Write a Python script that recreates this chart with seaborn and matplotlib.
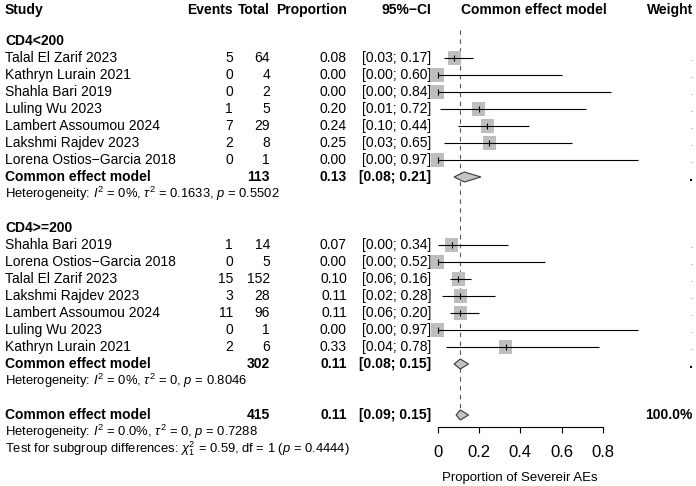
import numpy as np
import pandas as pd
import matplotlib
matplotlib.use("Agg")
import matplotlib.pyplot as plt
from matplotlib.patches import Polygon
import seaborn as sns

sns.set_theme(style="white")
plt.rcParams['font.family'] = ['Liberation Sans', 'DejaVu Sans']
plt.rcParams['mathtext.fontset'] = 'custom'
plt.rcParams['mathtext.rm'] = 'Liberation Sans'
plt.rcParams['mathtext.it'] = 'Liberation Sans:italic'
plt.rcParams['mathtext.bf'] = 'Liberation Sans:bold'

# ---------------- data ----------------
g1_label = "CD4<200"
g1_study = ["Talal El Zarif 2023", "Kathryn Lurain 2021", "Shahla Bari 2019", "Luling Wu 2023",
            "Lambert Assoumou 2024", "Lakshmi Rajdev 2023", "Lorena Ostios\u2212Garcia 2018"]
g1_events = [5, 0, 0, 1, 7, 2, 0]
g1_total = [64, 4, 2, 5, 29, 8, 1]
g1_prop = [0.08, 0.00, 0.00, 0.20, 0.24, 0.25, 0.00]
g1_lo = [0.03, 0.00, 0.00, 0.01, 0.10, 0.03, 0.00]
g1_hi = [0.17, 0.60, 0.84, 0.72, 0.44, 0.65, 0.97]
g1_pooled = [113, 0.13, 0.08, 0.21]   # total, est, lo, hi
g1_het = r"Heterogeneity: $\mathit{I}^2$ = 0%, $\tau^2$ = 0.1633, $\mathit{p}$ = 0.5502"

g2_label = "CD4>=200"
g2_study = ["Shahla Bari 2019", "Lorena Ostios\u2212Garcia 2018", "Talal El Zarif 2023", "Lakshmi Rajdev 2023",
            "Lambert Assoumou 2024", "Luling Wu 2023", "Kathryn Lurain 2021"]
g2_events = [1, 0, 15, 3, 11, 0, 2]
g2_total = [14, 5, 152, 28, 96, 1, 6]
g2_prop = [0.07, 0.00, 0.10, 0.11, 0.11, 0.00, 0.33]
g2_lo = [0.00, 0.00, 0.06, 0.02, 0.06, 0.00, 0.04]
g2_hi = [0.34, 0.52, 0.16, 0.28, 0.20, 0.97, 0.78]
g2_pooled = [302, 0.11, 0.08, 0.15]
g2_het = r"Heterogeneity: $\mathit{I}^2$ = 0%, $\tau^2$ = 0, $\mathit{p}$ = 0.8046"

all_pooled = [415, 0.11, 0.09, 0.15]
all_het = r"Heterogeneity: $\mathit{I}^2$ = 0.0%, $\tau^2$ = 0, $\mathit{p}$ = 0.7288"
all_test = r"Test for subgroup differences: $\chi^2_1$ = 0.59, df = 1 ($\mathit{p}$ = 0.4444)"

headers = ["Study", "Events", "Total", "Proportion", "95%\u2212CI", "Common effect model", "Weight"]
x_ticks = [0, 0.2, 0.4, 0.6, 0.8]
x_ticklabels = ["0", "0.2", "0.4", "0.6", "0.8"]
x_label = "Proportion of Severeir AEs"
model_label = "Common effect model"
overall_weight = "100.0%"

# ---------------- layout (pixels) ----------------
W, H = 696, 486
X0, XS = 437.5, 206.9        # pixel of 0, pixels per unit
Y0, DY = 41, 17
def row(r):
    return Y0 + DY * r

C_STUDY, C_EV, C_TOT, C_PROP, C_CI, C_MODEL, C_W = 5, 233, 270, 347, 431, 534, 693
FS = 10
FS_HET = 9.4

fig = plt.figure(figsize=(W / 100, H / 100), dpi=100)
fig.patch.set_facecolor("white")
ax = fig.add_axes([0, 0, 1, 1])
ax.set_facecolor("white")

tx = fig.add_axes([0, 0, 1, 1], frameon=False)
tx.set_xlim(0, W)
tx.set_ylim(H, 0)
tx.axis("off")

def t(x, y, s, ha="left", bold=False, size=FS, **kw):
    tx.text(x, y, s, ha=ha, va="center", fontsize=size,
            fontweight="bold" if bold else "normal", color="black", **kw)

# header
hx = [C_STUDY, C_EV, C_TOT, C_PROP, C_CI, C_MODEL, C_W]
ha_list = ["left", "right", "right", "right", "right", "center", "right"]
for x, s, ha in zip(hx, headers, ha_list):
    t(x, 10, s, ha=ha, bold=True)

# study table
rows_df = []
def group(start, label, study, ev, tot, prop, lo, hi, pooled, het):
    t(C_STUDY, row(start), label, bold=True)
    for i in range(len(study)):
        y = row(start + 1 + i)
        t(C_STUDY, y, study[i])
        t(C_EV, y, str(ev[i]), ha="right")
        t(C_TOT, y, str(tot[i]), ha="right")
        t(C_PROP, y, f"{prop[i]:.2f}", ha="right")
        t(C_CI, y, f"[{lo[i]:.2f}; {hi[i]:.2f}]", ha="right")
        t(C_W, y, ".", ha="right", size=7, alpha=0.6)
        rows_df.append(dict(prop=prop[i], lo=lo[i], hi=hi[i], y=y))
    yp = row(start + 1 + len(study))
    t(C_STUDY, yp, model_label, bold=True)
    t(C_TOT, yp, str(pooled[0]), ha="right", bold=True)
    t(C_PROP, yp, f"{pooled[1]:.2f}", ha="right", bold=True)
    t(C_CI, yp, f"[{pooled[2]:.2f}; {pooled[3]:.2f}]", ha="right", bold=True)
    t(C_W, yp, ".", ha="right", bold=True)
    t(C_STUDY, yp + DY, het, size=FS_HET)
    return yp

yp1 = group(0, g1_label, g1_study, g1_events, g1_total, g1_prop, g1_lo, g1_hi, g1_pooled, g1_het)
yp2 = group(11, g2_label, g2_study, g2_events, g2_total, g2_prop, g2_lo, g2_hi, g2_pooled, g2_het)

yo = row(22)
t(C_STUDY, yo, model_label, bold=True)
t(C_TOT, yo, str(all_pooled[0]), ha="right", bold=True)
t(C_PROP, yo, f"{all_pooled[1]:.2f}", ha="right", bold=True)
t(C_CI, yo, f"[{all_pooled[2]:.2f}; {all_pooled[3]:.2f}]", ha="right", bold=True)
t(C_W, yo, overall_weight, ha="right", bold=True)
t(C_STUDY, row(23), all_het, size=FS_HET)
t(C_STUDY, row(24), all_test, size=FS_HET)

df = pd.DataFrame(rows_df)

# ---------------- forest ----------------
sns.scatterplot(data=df, x="prop", y="y", marker="s", s=88, color="#BEBEBE",
                edgecolor="none", linewidth=0, ax=ax, zorder=2, legend=False)
ax.hlines(df["y"], df["lo"], df["hi"], color="black", lw=0.8, zorder=3)
ax.vlines(df["prop"], df["y"] - 3, df["y"] + 3, color="black", lw=0.8, zorder=3)

for (tot, est, lo, hi), y in [(g1_pooled, yp1), (g2_pooled, yp2), (all_pooled, yo)]:
    ax.add_patch(Polygon([(lo, y), (est, y - 5), (hi, y), (est, y + 5)], closed=True,
                         facecolor="#C4C4C4", edgecolor="#3a3a3a", lw=0.8, zorder=4))

ax.vlines(all_pooled[1], 30, yo - 5, colors="#555555", linestyles=(0, (4, 4)), lw=0.8, zorder=1)

ax.set_xlim(-X0 / XS, (W - X0) / XS)
ax.set_ylim(H, 0)
ax.set_xlabel("")
ax.set_ylabel("")
ax.set_yticks([])
for s in ["top", "left", "right"]:
    ax.spines[s].set_visible(False)
ax.spines["bottom"].set_position(("data", 427))
ax.spines["bottom"].set_bounds(0, 0.8)
ax.spines["bottom"].set_color("black")
ax.spines["bottom"].set_linewidth(0.8)
ax.set_xticks(x_ticks)
ax.set_xticklabels(x_ticklabels)
ax.tick_params(axis="x", bottom=True, length=4.5, width=0.8, color="black",
               direction="out", pad=8.5, labelsize=12, labelcolor="black")
ax.text(0.4, 478, x_label, ha="center", va="center", fontsize=9.5, color="black")

fig.savefig("out.png", dpi=100, facecolor="white")
